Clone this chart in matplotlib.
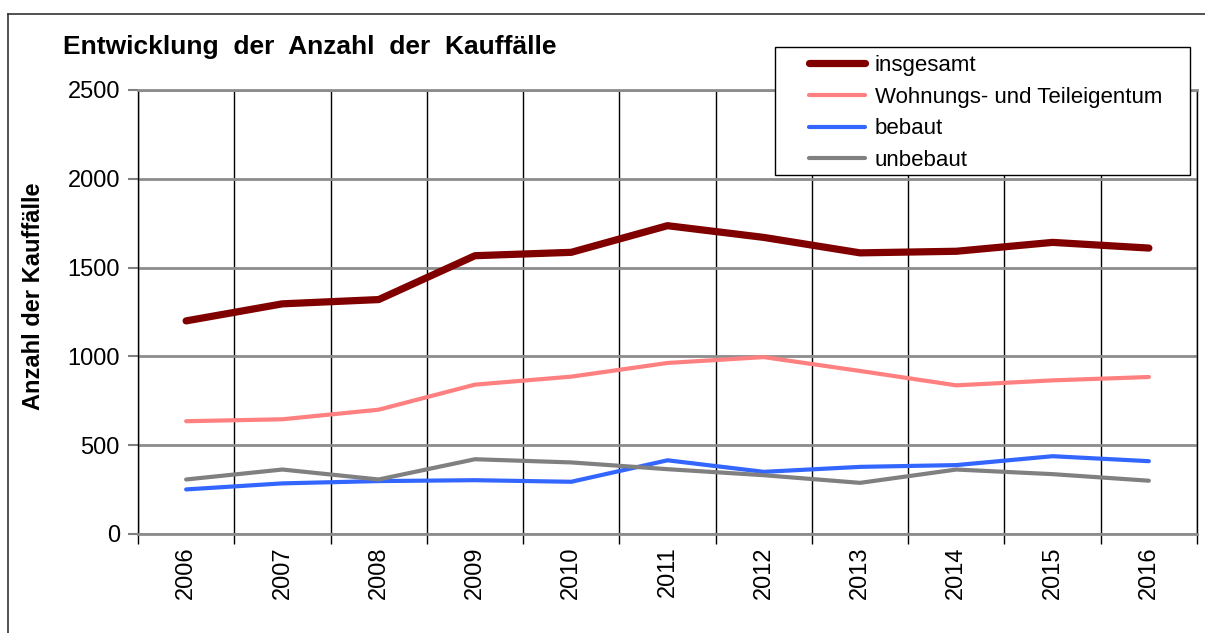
import matplotlib
matplotlib.use("Agg")
import matplotlib.pyplot as plt
from matplotlib.lines import Line2D
from matplotlib.patches import Rectangle

plt.rcParams['font.family'] = ['Liberation Sans', 'DejaVu Sans']

years = ["2006", "2007", "2008", "2009", "2010", "2011", "2012", "2013", "2014", "2015", "2016"]
insgesamt = [1200, 1296, 1320, 1567, 1586, 1736, 1670, 1583, 1592, 1642, 1610]
wohnung = [635, 646, 700, 841, 886, 963, 996, 918, 837, 865, 884]
bebaut = [251, 285, 298, 303, 294, 415, 350, 378, 388, 438, 410]
unbebaut = [307, 363, 307, 421, 403, 365, 331, 288, 363, 337, 300]

series = [
    ("insgesamt", insgesamt, "#800000", 5.2),
    ("Wohnungs- und Teileigentum", wohnung, "#ff8080", 3.0),
    ("bebaut", bebaut, "#3366ff", 3.0),
    ("unbebaut", unbebaut, "#808080", 3.0),
]

W, H = 1205, 633
fig = plt.figure(figsize=(W / 100, H / 100), dpi=100)
ax = fig.add_axes([138 / W, 1 - 534 / H, (1197 - 138) / W, (534 - 90) / H])

x = list(range(len(years)))
handles = []
for name, vals, col, lw in series:
    h, = ax.plot(x, vals, color=col, lw=lw, solid_capstyle='round', solid_joinstyle='round', label=name, zorder=3)
    handles.append(h)

ax.set_xlim(-0.5, len(years) - 0.5)
ax.set_ylim(0, 2500)
ax.set_yticks(range(0, 2501, 500))
ax.set_xticks(x)
ax.set_xticklabels(years, rotation=90, fontsize=17)
ax.set_xticks([i - 0.5 for i in range(len(years) + 1)], minor=True)
ax.tick_params(axis='x', which='major', length=0, pad=9)
ax.tick_params(axis='x', which='minor', length=7, width=1, color='black', direction='out')
ax.tick_params(axis='y', length=7, width=1.5, color='#808080', labelsize=17, pad=6)

ax.grid(axis='y', which='major', color='#8c8c8c', lw=2, zorder=1)
ax.grid(axis='x', which='minor', color='black', lw=1, zorder=1)
ax.set_axisbelow(True)

for s in ['top', 'bottom']:
    ax.spines[s].set_color('#8c8c8c')
    ax.spines[s].set_linewidth(2)
for s in ['left', 'right']:
    ax.spines[s].set_color('black')
    ax.spines[s].set_linewidth(1)

ax.set_ylabel("Anzahl der Kauffälle", fontsize=17, fontweight='bold')
ax.yaxis.set_label_coords((45 - 138) / 1059, 0.536)

fig.text(63 / W, 1 - 47 / H, "Entwicklung  der  Anzahl  der  Kauffälle",
         fontsize=19, fontweight='bold', va='center', ha='left')

# legend box drawn separately so the entries can sit indented inside it
fig.add_artist(Rectangle((775 / W, 1 - 175 / H), (1190 - 775) / W, (175 - 47) / H,
                         transform=fig.transFigure, facecolor='white', edgecolor='black', lw=1, zorder=4))
leg = fig.legend(handles=handles, loc='upper left',
                 bbox_to_anchor=(809 / W, 1 - 55 / H),
                 fontsize=16, frameon=False,
                 handlelength=2.5, handletextpad=0.45, labelspacing=0.48,
                 borderpad=0, borderaxespad=0)
leg.set_zorder(5)

# outer frame (top and left edges only visible)
fig.add_artist(Line2D([8 / W, 1], [1 - 14 / H, 1 - 14 / H], color='#333333', lw=1.2, transform=fig.transFigure))
fig.add_artist(Line2D([8 / W, 8 / W], [0, 1 - 14 / H], color='#333333', lw=1.2, transform=fig.transFigure))

fig.savefig("out.png", dpi=100)
